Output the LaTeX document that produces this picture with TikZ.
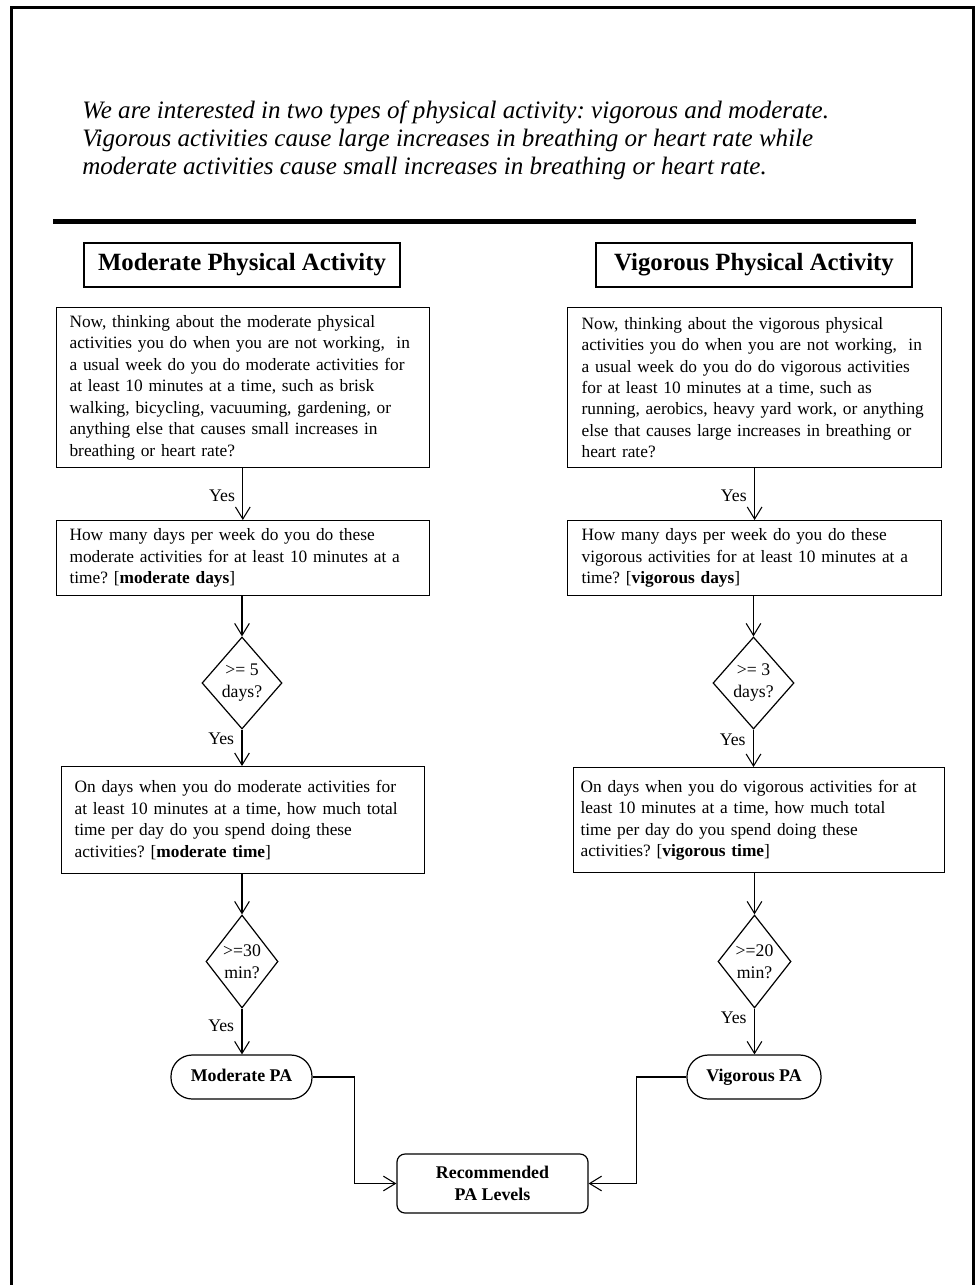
\documentclass[tikz,border=0pt]{standalone}
\usepackage{fontspec}
\setmainfont{Liberation Serif}
\usetikzlibrary{arrows.meta,shapes.geometric}
\frenchspacing
\newcommand\bodyfont{\fontsize{13.0pt}{16.1pt}\selectfont}
\newcommand\boldbody{\fontsize{13.4pt}{16.1pt}\selectfont\bfseries}
\newcommand\difont{\fontsize{13.3pt}{16.5pt}\selectfont}
\newcommand\introfont{\fontsize{18.8pt}{21pt}\selectfont\itshape}
\newcommand\titlefont{\fontsize{18.6pt}{22pt}\selectfont\bfseries}
\newcommand\tl[1]{\mbox{#1}}
\tikzset{
  qbox/.style={draw, line width=0.9pt, rectangle, anchor=north west, align=left,
    inner ysep=0pt, font=\bodyfont},
  tbox/.style={draw, line width=0.9pt, rectangle, minimum width=237pt, minimum height=33pt,
    inner sep=0pt, font=\titlefont},
  dia/.style={draw, line width=0.9pt, diamond, inner sep=0pt, align=center, font=\difont},
  pabox/.style={draw, line width=0.9pt, rectangle, rounded corners=16pt, minimum height=33pt,
    inner sep=0pt, text height=9.4pt, text depth=2.6pt, align=center, font=\boldbody},
  recbox/.style={draw, line width=0.9pt, rectangle, rounded corners=6pt, minimum width=143.25pt,
    minimum height=44.25pt, inner sep=0pt, align=center, font=\boldbody},
  arr/.style={line width=0.8pt, -{Straight Barb[length=9pt,width=11pt,line width=0.8pt]}},
  yes/.style={left, inner sep=0pt, xshift=-5.5pt, font=\fontsize{13.3pt}{16pt}\selectfont},
}
\begin{document}
\begin{tikzpicture}[x=0.75pt,y=-0.75pt]
\useasboundingbox (0,0) rectangle (976,1285);
% frame
\draw[line width=2.25pt] (11.3,1285) -- (11.3,7) -- (973.5,7) -- (973.5,1285);
% intro
\node[anchor=west, align=left, inner sep=0pt, font=\introfont] (intro) at (82,140)
  {We are interested in two types of physical activity: vigorous and moderate.\\
   Vigorous activities cause large increases in breathing or heart rate while\\
   moderate activities cause small increases in breathing or heart rate.};
\draw[line width=3.75pt] (53,221.5) -- (916,221.5);
% titles
\node[tbox] (lt) at (242,265) {Moderate Physical Activity};
\node[tbox] (rt) at (754,265) {Vigorous Physical Activity};
% left column
\node[qbox, text width=259.9pt, inner xsep=10.1pt, minimum height=120pt] (lb1) at (55.5,307)
 {\tl{Now, thinking about the moderate physical}\\
  \tl{activities you do when you are not working,~ in}\\
  \tl{a usual week do you do moderate activities for}\\
  \tl{at least 10 minutes at a time, such as brisk}\\
  \tl{walking, bicycling, vacuuming, gardening, or}\\
  \tl{anything else that causes small increases in}\\
  \tl{breathing or heart rate?}};
\node[qbox, text width=259.9pt, inner xsep=10.1pt, minimum height=56.25pt] (lb2) at (55.5,520)
 {\tl{How many days per week do you do these}\\
  \tl{moderate activities for at least 10 minutes at a}\\
  \tl{time? [\textbf{moderate days}]}};
\node[dia, minimum width=60pt, minimum height=69pt] (ld1) at (242,683) {>= 5\\days?};
\node[qbox, text width=252.75pt, inner xsep=9.75pt, minimum height=80.25pt] (lb3) at (61,766)
 {\tl{On days when you do moderate activities for}\\
  \tl{at least 10 minutes at a time, how much total}\\
  \tl{time per day do you spend doing these}\\
  \tl{activities? [\textbf{moderate time}]}};
\node[dia, minimum width=54pt, minimum height=69.75pt] (ld2) at (242,961.5) {>=30\\min?};
\node[pabox, minimum width=105.75pt] (mpa) at (241.5,1077) {Moderate PA};
% right column
\node[qbox, text width=259.5pt, inner xsep=10.5pt, minimum height=120pt] (rb1) at (567,307)
 {\tl{Now, thinking about the vigorous physical}\\
  \tl{activities you do when you are not working,~ in}\\
  \tl{a usual week do you do do vigorous activities}\\
  \tl{for at least 10 minutes at a time, such as}\\
  \tl{running, aerobics, heavy yard work, or anything}\\
  \tl{else that causes large increases in breathing or}\\
  \tl{heart rate?}};
\node[qbox, text width=259.5pt, inner xsep=10.5pt, minimum height=56.25pt] (rb2) at (567,520)
 {\tl{How many days per week do you do these}\\
  \tl{vigorous activities for at least 10 minutes at a}\\
  \tl{time? [\textbf{vigorous days}]}};
\node[dia, minimum width=60.75pt, minimum height=69pt] (rd1) at (753.5,683) {>= 3\\days?};
\node[qbox, text width=267.75pt, inner xsep=5.25pt, minimum height=78.75pt] (rb3) at (573,767)
 {\tl{On days when you do vigorous activities for at}\\
  \tl{least 10 minutes at a time, how much total}\\
  \tl{time per day do you spend doing these}\\
  \tl{activities? [\textbf{vigorous time}]}};
\node[dia, minimum width=54.75pt, minimum height=69.75pt] (rd2) at (754.5,961.5) {>=20\\min?};
\node[pabox, minimum width=100.5pt] (vpa) at (754,1077) {Vigorous PA};
% result
\node[recbox] (rec) at (492.5,1183.5) {Recommended\\PA Levels};
% left connectors
\draw[arr] (lb1.south) -- node[yes,pos=0.53]{Yes} (lb2.north);
\draw[arr] (lb2.south -| ld1.north) -- (ld1.north);
\draw[arr] (ld1.south) -- node[yes,pos=0.24]{Yes} (lb3.north -| ld1.south);
\draw[arr] (lb3.south -| ld2.north) -- (ld2.north);
\draw[arr] (ld2.south) -- node[yes,pos=0.38]{Yes} (mpa.north -| ld2.south);
% right connectors
\draw[arr] (rb1.south) -- node[yes,pos=0.53]{Yes} (rb2.north);
\draw[arr] (rb2.south -| rd1.north) -- (rd1.north);
\draw[arr] (rd1.south) -- node[yes,pos=0.27]{Yes} (rb3.north -| rd1.south);
\draw[arr] (rb3.south -| rd2.north) -- (rd2.north);
\draw[arr] (rd2.south) -- node[yes,pos=0.19]{Yes} (vpa.north -| rd2.south);
% to result
\draw[arr] (mpa.east) -- ++(42,0) |- (rec.west);
\draw[arr] (vpa.west) -- ++(-50,0) |- (rec.east);
\end{tikzpicture}
\end{document}
